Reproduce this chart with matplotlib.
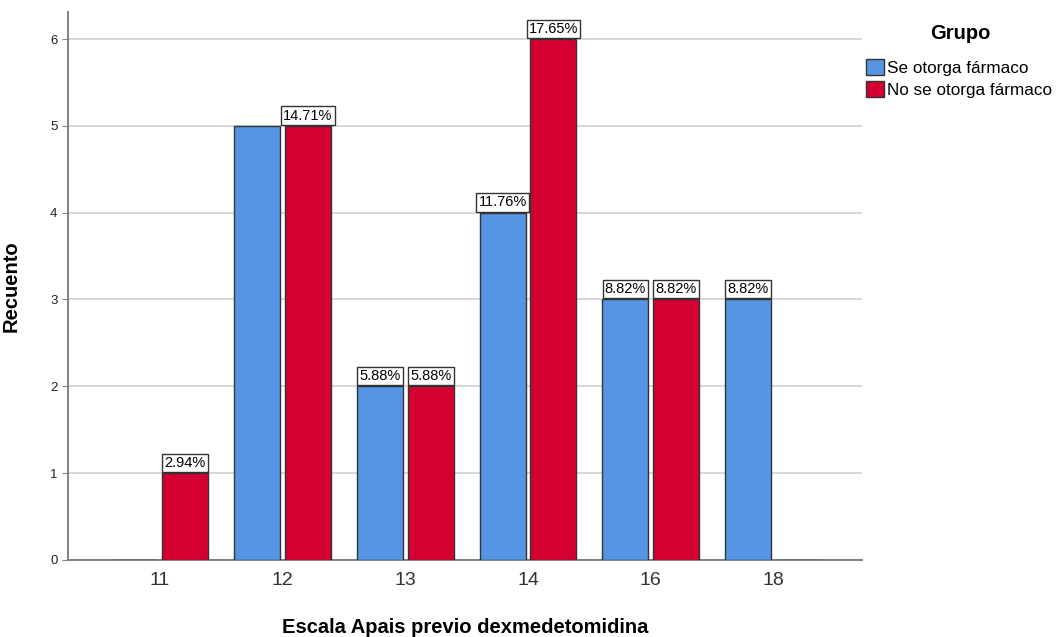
import numpy as np
import matplotlib.pyplot as plt
from matplotlib.patches import Patch

# Data
categories = ['11', '12', '13', '14', '16', '18']
se_otorga = [0, 5, 2, 4, 3, 3]
no_se_otorga = [1, 5, 2, 6, 3, 0]
se_labels = [None, None, '5.88%', '11.76%', '8.82%', '8.82%']
no_labels = ['2.94%', '14.71%', '5.88%', '17.65%', '8.82%', None]

blue = '#5595E4'
red = '#D50032'
font = 'Liberation Sans'

fig = plt.figure(figsize=(10.6, 6.37), dpi=100)
ax = fig.add_axes([0.064, 0.121, 0.749, 0.860])

x = np.arange(len(categories))
width = 0.374
offset = 0.207

ax.bar(x - offset, se_otorga, width, color=blue, edgecolor='#333333', linewidth=1, zorder=3)
ax.bar(x + offset, no_se_otorga, width, color=red, edgecolor='#333333', linewidth=1, zorder=3)

box = dict(boxstyle='square,pad=0.15', facecolor='white', edgecolor='#333333', linewidth=1)
for xs, vals, labs in [(x - offset, se_otorga, se_labels), (x + offset, no_se_otorga, no_labels)]:
    for xi, v, lab in zip(xs, vals, labs):
        if lab is None:
            continue
        ax.annotate(lab, (xi, v), xytext=(0, 2.3), textcoords='offset points',
                    ha='center', va='bottom', fontsize=10.5, bbox=box, zorder=5,
                    family=font)

ax.set_xlim(-0.75, 5.72)
ax.set_ylim(0, 6.31)
ax.set_xticks(x)
ax.set_xticklabels(categories, fontsize=14, color='#333333', family=font)
ax.set_yticks(range(7))
ax.set_yticklabels([str(i) for i in range(7)], fontsize=9.5, color='#222222', family=font)
ax.tick_params(axis='x', length=0, pad=9)
ax.tick_params(axis='y', length=4, color='#888888')

ax.grid(axis='y', color='#D4D4D4', linewidth=1.3, zorder=0)
for s in ['top', 'right']:
    ax.spines[s].set_visible(False)
for s in ['left', 'bottom']:
    ax.spines[s].set_color('#777777')
    ax.spines[s].set_linewidth(1.3)

ax.set_xlabel('Escala Apais previo dexmedetomidina', fontsize=14.5, fontweight='bold', family=font)
ax.xaxis.set_label_coords(0.5, -0.106)
ax.set_ylabel('Recuento', fontsize=14.5, fontweight='bold', family=font)
ax.yaxis.set_label_coords(-0.06, 0.5)

fig.text(0.906, 0.948, 'Grupo', fontsize=14.5, fontweight='bold', family=font,
         ha='center', va='center')
handles = [Patch(facecolor=blue, edgecolor='#333333'), Patch(facecolor=red, edgecolor='#333333')]
leg = fig.legend(handles, ['Se otorga fármaco', 'No se otorga fármaco'],
                 loc='upper left', bbox_to_anchor=(0.817, 0.907), frameon=False,
                 prop={'family': font, 'size': 12.3}, borderaxespad=0, borderpad=0,
                 handlelength=1.05, handleheight=1.05, handletextpad=0.2, labelspacing=0.3)

fig.savefig('out.png', dpi=100)
